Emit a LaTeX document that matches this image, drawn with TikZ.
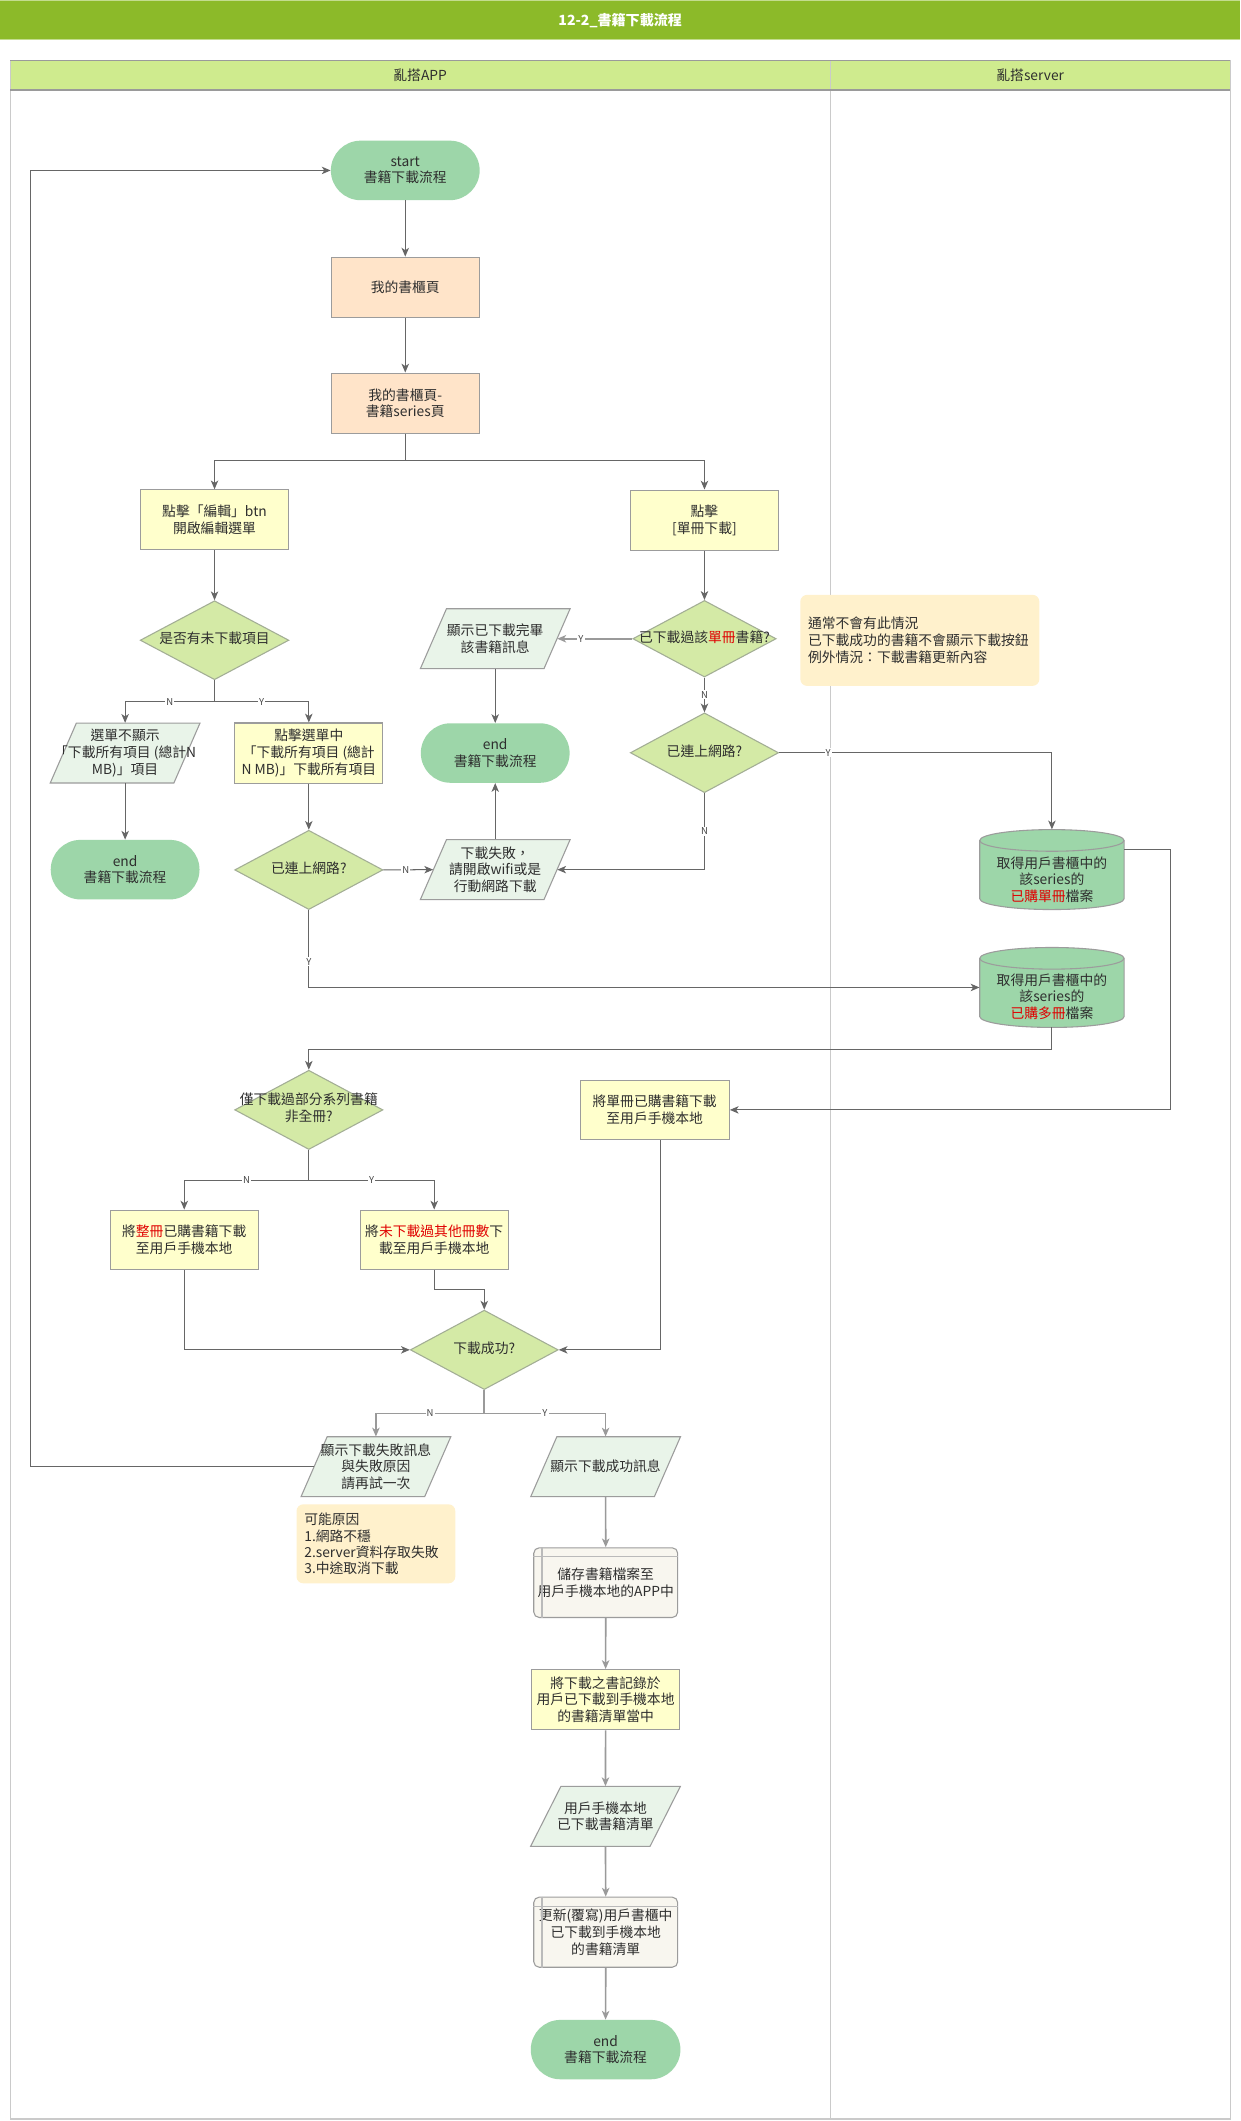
\documentclass[tikz,border=0pt]{standalone}
\usepackage{fontspec}
\setmainfont{Noto Sans CJK TC}
\usetikzlibrary{shapes.geometric,arrows.meta,calc}
\definecolor{titlec}{HTML}{8CBA29}
\definecolor{titleb}{HTML}{C3DC8E}
\definecolor{laneh}{HTML}{CFEB8E}
\definecolor{laneline}{HTML}{CACACA}
\definecolor{laneheadline}{HTML}{9A9A9A}
\definecolor{termc}{HTML}{9DD6A9}
\definecolor{peach}{HTML}{FFE4C9}
\definecolor{yelc}{HTML}{FFFFCC}
\definecolor{decc}{HTML}{D4EAA6}
\definecolor{decb}{HTML}{A3AE95}
\definecolor{pgc}{HTML}{E9F4E9}
\definecolor{notec}{HTML}{FFF1CC}
\definecolor{storec}{HTML}{F8F6EF}
\definecolor{bordc}{HTML}{9C9C9C}
\definecolor{linec}{HTML}{666666}
\definecolor{linec2}{HTML}{9A9A9A}
\definecolor{txtc}{HTML}{2E2E2E}
\definecolor{lblc}{HTML}{444444}
\definecolor{redc}{HTML}{E00000}
\pgfdeclarelayer{bg}
\pgfdeclarelayer{shp}
\pgfsetlayers{bg,shp,main}
\newcommand\dtext[1]{\makebox[0pt]{\begin{tabular}{@{}c@{}}#1\end{tabular}}}
\newcommand\rd[1]{\textcolor{redc}{#1}}
\newcommand\pgshape[2][19.3]{%
  \begin{scope}[shift={(#2.center)}]
    \path[fill=pgc, draw=bordc, line width=0.8pt] (-55.35,22.15) -- ({55.35-#1},22.15) -- (55.35,-22.15) -- ({-55.35+#1},-22.15) -- cycle;
  \end{scope}}
\newcommand\cylshape[1]{%
  \begin{scope}[shift={(#1.center)}]
    \path[fill=termc, draw=bordc, line width=0.8pt] (-53.35,-21.55) -- (-53.35,21.55) .. controls (-53.35,25.97) and (-29.47,29.55) .. (0,29.55) .. controls (29.47,29.55) and (53.35,25.97) .. (53.35,21.55) -- (53.35,-21.55) .. controls (53.35,-25.97) and (29.47,-29.55) .. (0,-29.55) .. controls (-29.47,-29.55) and (-53.35,-25.97) .. (-53.35,-21.55) -- cycle;
    \draw[bordc, line width=0.8pt] (-53.35,-21.55) .. controls (-53.35,-17.13) and (-29.47,-13.55) .. (0,-13.55) .. controls (29.47,-13.55) and (53.35,-17.13) .. (53.35,-21.55);
  \end{scope}}
\begin{document}
\begin{tikzpicture}[x=1pt,y=-1pt,
  base/.style={font=\fontsize{10.2pt}{12.3pt}\selectfont, text=txtc, align=center, inner sep=2pt},
  term/.style={base, rectangle, rounded corners=22pt, fill=termc, minimum width=110pt, minimum height=44pt},
  proc/.style={base, rectangle, fill=peach, draw=bordc, line width=0.8pt, minimum width=109.5pt, minimum height=44.4pt},
  yel/.style={proc, fill=yelc},
  dec/.style={base, diamond, fill=decc, draw=decb, line width=0.8pt, minimum width=109.6pt, minimum height=58.6pt, inner sep=0pt},
  pgnode/.style={base, rectangle, minimum width=91.4pt, minimum height=44.3pt, inner sep=1pt},
  cylnode/.style={base, rectangle, minimum width=106.7pt, minimum height=59.1pt, inner sep=0pt},
  note/.style={base, rectangle, rounded corners=5pt, fill=notec, align=left, inner xsep=5.7pt, inner ysep=0pt},
  storebox/.style={base, rectangle, rounded corners=4pt, fill=storec, draw=bordc, line width=0.8pt, minimum width=106.4pt, minimum height=51.5pt},
  lbl/.style={font=\fontsize{7pt}{8pt}\selectfont, text=lblc, fill=white, inner sep=0.8pt},
  conn/.style={draw=linec, line width=0.75pt, -{Stealth[length=6.5pt,width=5.5pt,inset=1.8pt]}},
  connb/.style={draw=linec2, line width=1.2pt, -{Stealth[length=6.5pt,width=5.5pt,inset=1.8pt]}},
  plain/.style={draw=linec, line width=0.75pt}
]
\useasboundingbox (0,0) rectangle (917,1568);
\begin{pgfonlayer}{bg}
  \fill[white] (0,0) rectangle (917,1568);
  \fill[titlec] (0,0) rectangle (917,29.6);
  \draw[titleb, line width=1pt] (0,0.5) -- (917,0.5);
  \draw[titleb, line width=1pt] (0,29.3) -- (917,29.3);
  \fill[laneh] (7.6,44.6) rectangle (909.6,66.5);
  \draw[laneline, line width=0.8pt] (7.6,44.6) rectangle (909.6,1566.5);
  \draw[laneline, line width=0.8pt] (613.7,44.6) -- (613.7,1566.5);
  \draw[laneheadline, line width=1pt] (7.6,44.6) -- (909.6,44.6);
  \draw[laneheadline, line width=1pt] (7.6,66.5) -- (909.6,66.5);
\end{pgfonlayer}
\node[font=\fontsize{10.4pt}{12pt}\selectfont\bfseries, text=white] (title) at (458.5,15) {12-2\_書籍下載流程};
\node[base] (laneA) at (310.6,55.6) {亂搭APP};
\node[base] (laneB) at (761.6,55.6) {亂搭server};

% nodes
\node[term] (start) at (299.6,126) {start\\書籍下載流程};
\node[proc] (p1) at (299.6,212.3) {我的書櫃頁};
\node[proc] (p2) at (299.6,298) {我的書櫃頁-\\書籍series頁};
\node[yel] (edit) at (158.6,384.3) {點擊「編輯」btn\\開啟編輯選單};
\node[yel] (single) at (520.8,384.5) {點擊\\{[}單冊下載{]}};
\node[dec, minimum width=109.9pt, minimum height=58.4pt] (d1) at (158.6,473.3) {\dtext{是否有未下載項目}};
\node[dec, minimum width=106pt, minimum height=56.6pt] (d3) at (520.8,472.2) {\dtext{已下載過該\rd{單冊}書籍?}};
\node[pgnode] (pdone) at (366.1,472.2) {顯示已下載完畢\\該書籍訊息};
\node[note, minimum width=176.7pt, minimum height=67.3pt, text width=165.3pt] (note1) at (680,473.4) {通常不會有此情況\\已下載成功的書籍不會顯示下載按鈕\\例外情況：下載書籍更新內容};
\node[pgnode] (pg1) at (92.5,556.7) {選單不顯示\\「下載所有項目~(總計N\\MB)」項目};
\node[yel] (sel) at (228.3,556.7) {點擊選單中\\「下載所有項目~(總計\\N~MB)」下載所有項目};
\node[term] (end2) at (366.1,556.7) {end\\書籍下載流程};
\node[dec, minimum height=59pt] (d4) at (520.8,556.5) {\dtext{已連上網路?}};
\node[term] (end1) at (92.5,642.9) {end\\書籍下載流程};
\node[dec] (d2) at (228.3,643.1) {\dtext{已連上網路?}};
\node[pgnode] (pfail) at (366.1,642.9) {下載失敗，\\請開啟wifi或是\\行動網路下載};
\node[cylnode] (c1) at (777.65,642.85) {};
\node[base] (c1t) at ([yshift=-7.4pt]c1.center) {取得用戶書櫃中的\\該series的\\\rd{已購單冊}檔案};
\node[cylnode, minimum height=58.4pt] (c2) at (777.65,730) {};
\node[base] (c2t) at ([yshift=-6.6pt]c2.center) {取得用戶書櫃中的\\該series的\\\rd{已購多冊}檔案};
\node[dec] (d5) at (228.3,820.5) {\dtext{僅下載過部分系列書籍\\非全冊?}};
\node[yel, minimum width=110.3pt, minimum height=43.8pt] (single2) at (484,820.5) {將單冊已購書籍下載\\至用戶手機本地};
\node[yel, minimum height=43.8pt] (whole) at (136.2,916.5) {將\rd{整冊}已購書籍下載\\至用戶手機本地};
\node[yel, minimum height=43.8pt] (other) at (321,916.5) {將\rd{未下載過其他冊數}下\\載至用戶手機本地};
\node[dec, minimum width=109.3pt, minimum height=58.7pt] (d6) at (358,997.9) {\dtext{下載成功?}};
\node[pgnode] (pfailmsg) at (277.9,1084.3) {顯示下載失敗訊息\\與失敗原因\\請再試一次};
\node[pgnode] (psucc) at (447.7,1084.3) {顯示下載成功訊息};
\node[note, minimum width=117.4pt, minimum height=58.4pt, text width=105.8pt, font=\fontsize{10.2pt}{11.9pt}\selectfont] (note2) at (277.9,1141.3) {可能原因\\1.網路不穩\\2.server資料存取失敗\\3.中途取消下載};
\node[storebox] (store) at (447.8,1170) {儲存書籍檔案至\\用戶手機本地的APP中};
\node[yel, minimum width=109.6pt, minimum height=44.5pt] (record) at (447.7,1256.5) {將下載之書記錄於\\用戶已下載到手機本地\\的書籍清單當中};
\node[pgnode, minimum width=88.5pt] (plist) at (447.6,1342.8) {用戶手機本地\\已下載書籍清單};
\node[storebox, minimum height=51.8pt] (update) at (447.8,1428.4) {更新(覆寫)用戶書櫃中\\已下載到手機本地\\的書籍清單};
\node[term, minimum width=110.6pt, minimum height=43.9pt, rounded corners=21.9pt] (end3) at (447.7,1515.2) {end\\書籍下載流程};
\coordinate (loopx) at (22.4,126);

% shapes behind nodes
\begin{pgfonlayer}{shp}
  \pgshape{pdone}
  \pgshape{pg1}
  \pgshape{pfail}
  \pgshape{pfailmsg}
  \pgshape{psucc}
  \pgshape[22.4]{plist}
  \cylshape{c1}
  \cylshape{c2}
\end{pgfonlayer}
\foreach \s in {store,update}{
  \draw[bordc!70, line width=1pt] ([xshift=6.4pt]\s.north west) -- ([xshift=6.4pt]\s.south west);
  \draw[bordc!70, line width=0.8pt] ([yshift=-7pt]\s.north west) -- ([yshift=-7pt]\s.north east);
}

% connectors
\draw[conn] (start) -- (p1);
\draw[conn] (p1) -- (p2);
\draw[conn] (p2.south) -- ++(0,19.8) -| (edit.north);
\draw[conn] (p2.south) -- ++(0,19.8) -| (single.north);
\draw[conn] (edit.south) -- (d1.north);
\draw[conn] (d1.south) -- ++(0,16) -| node[lbl,pos=0.25]{N} (pg1.north);
\draw[conn] (d1.south) -- ++(0,16) -| node[lbl,pos=0.25]{Y} (sel.north);
\draw[conn] (pg1.south) -- (end1.north);
\draw[conn] (sel.south) -- (d2.north);
\draw[conn] (d2.east) -- node[lbl,pos=0.45]{N} (pfail.west);
\draw[conn] (pfail.north) -- (end2.south);
\draw[conn] (d2.south) |- node[lbl,pos=0.335]{Y} (c2.west);
\draw[conn] (single.south) -- (d3.north);
\draw[connb] (d3.west) -- node[lbl,pos=0.685]{Y} (pdone.east);
\draw[conn] (pdone.south) -- (end2.north);
\draw[conn] (d3.south) -- node[lbl]{N} (d4.north);
\draw[conn] (d4.east) -| node[lbl,pos=0.09]{Y} (c1.north);
\draw[conn] (d4.south) |- node[lbl,pos=0.25]{N} (pfail.east);
\draw[conn] ([yshift=14.7pt]c1.east) -- ++(33.8,0) |- (single2.east);
\draw[conn] (c2.south) -- ++(0,16.7) -| (d5.north);
\draw[conn] (d5.south) -- ++(0,22.4) -| node[lbl,pos=0.25]{N} (whole.north);
\draw[conn] (d5.south) -- ++(0,22.4) -| node[lbl,pos=0.25]{Y} (other.north);
\draw[conn] (whole.south) |- (d6.west);
\draw[conn] (other.south) -- ++(0,14.8) -| (d6.north);
\draw[conn] ([xshift=4.4pt]single2.south) |- (d6.east);
\draw[connb] (d6.south) -- ++(0,17.2) -| node[lbl,pos=0.25]{N} (pfailmsg.north);
\draw[connb] (d6.south) -- ++(0,17.2) -| node[lbl,pos=0.25]{Y} (psucc.north);
\draw[conn] (pfailmsg.west) -- (pfailmsg.west -| loopx) |- (start.west);
\draw[connb] (psucc.south) -- (store.north);
\draw[connb] (store.south) -- (record.north);
\draw[connb] (record.south) -- (plist.north);
\draw[connb] (plist.south) -- (update.north);
\draw[connb] (update.south) -- (end3.north);
\end{tikzpicture}
\end{document}
